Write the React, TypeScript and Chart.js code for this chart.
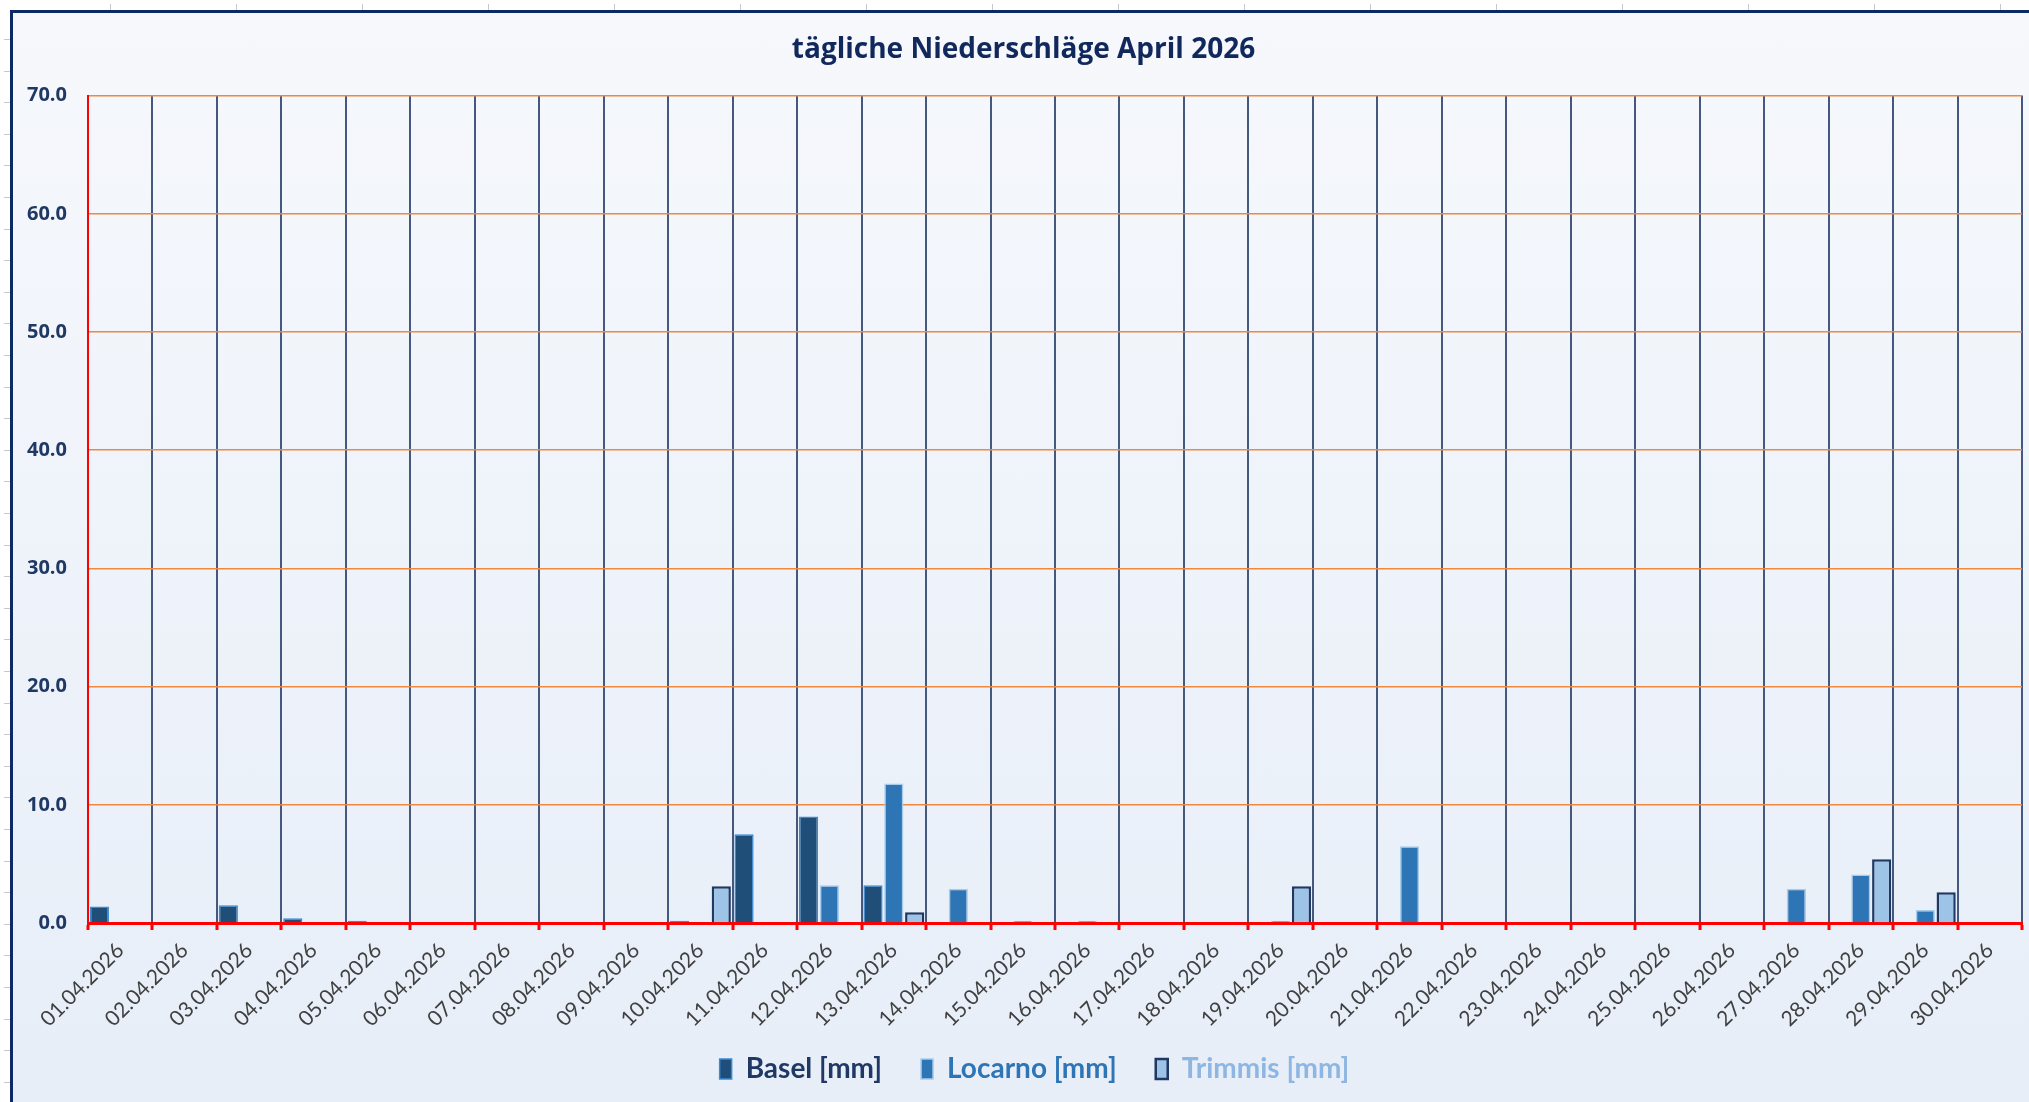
import React, { useEffect, useRef } from "react";
import { Chart, registerables } from "chart.js";

Chart.register(...registerables);

const TITLE = "tägliche Niederschläge April 2026";

const categories = [
  "01.04.2026", "02.04.2026", "03.04.2026", "04.04.2026", "05.04.2026",
  "06.04.2026", "07.04.2026", "08.04.2026", "09.04.2026", "10.04.2026",
  "11.04.2026", "12.04.2026", "13.04.2026", "14.04.2026", "15.04.2026",
  "16.04.2026", "17.04.2026", "18.04.2026", "19.04.2026", "20.04.2026",
  "21.04.2026", "22.04.2026", "23.04.2026", "24.04.2026", "25.04.2026",
  "26.04.2026", "27.04.2026", "28.04.2026", "29.04.2026", "30.04.2026",
];

const seriesNames = ["Basel [mm]", "Locarno [mm]", "Trimmis [mm]"];

const basel = [
  1.4, null, 1.5, 0.4, 0.2, null, null, null, null, 0.2,
  7.5, 9.0, 3.2, null, null, null, null, null, null, null,
  null, null, null, null, null, null, null, null, null, null,
];

const locarno = [
  null, null, null, null, null, null, null, null, null, null,
  null, 3.2, 11.8, 2.9, 0.2, 0.2, null, null, 0.2, null,
  6.5, null, null, null, null, null, 2.9, 4.1, 1.1, null,
];

const trimmis = [
  null, null, null, null, null, null, null, null, null, 3.1,
  null, null, 0.9, null, null, null, null, null, 3.1, null,
  null, null, null, null, null, null, null, 5.4, 2.6, null,
];

const yMin = 0;
const yMax = 70;
const yStep = 10;

const fillColors = ["#1F4E79", "#2E75B6", "#9DC3E6"];
const borderColors = ["#3A8AD6", "#A9CBEA", "#1F3864"];
const borderWidths = [1.5, 1.5, 2.5];
const legendTextColors = ["#1F3864", "#2E75B6", "#8DB6E2"];

const NAVY_GRID = "#45597F";
const ORANGE_GRID = "#F0883E";
const RED = "#FF0000";

// shifts (px) applied after layout to fine-place the title and legend blocks
const TITLE_SHIFT_X = 6;
const LEGEND_SHIFT_X = 17;
const LEGEND_SHIFT_Y = -17;

const placementPlugin = {
  id: "placement",
  afterLayout(chart: any) {
    const t = chart.titleBlock;
    if (t) {
      t.left += TITLE_SHIFT_X;
      t.right += TITLE_SHIFT_X;
    }
    const l = chart.legend;
    if (l) {
      l.left += LEGEND_SHIFT_X;
      l.right += LEGEND_SHIFT_X;
      l.top += LEGEND_SHIFT_Y;
    }
  },
};

export default function App() {
  const canvasRef = useRef<HTMLCanvasElement | null>(null);

  useEffect(() => {
    document.body.style.margin = "0";
    const canvas = canvasRef.current;
    if (!canvas) return;
    const series = [basel, locarno, trimmis];
    const chart = new Chart(canvas, {
      type: "bar",
      plugins: [placementPlugin],
      data: {
        labels: categories,
        datasets: series.map((d, i) => ({
          label: seriesNames[i],
          data: d,
          backgroundColor: fillColors[i],
          borderColor: borderColors[i],
          borderWidth: borderWidths[i],
          borderSkipped: "start",
          categoryPercentage: 0.97,
          barPercentage: 0.92,
        })),
      },
      options: {
        responsive: false,
        animation: false,
        devicePixelRatio: 1,
        layout: { padding: { left: 0, right: 7, top: 0, bottom: 9 } },
        plugins: {
          title: {
            display: true,
            text: TITLE,
            color: "#10285C",
            font: { family: "'Open Sans'", size: 28, weight: "bold" },
            padding: { top: 20, bottom: 29 },
          },
          legend: {
            position: "bottom",
            maxHeight: 60,
            labels: {
              font: { family: "Lato", size: 28, weight: "bold" },
              boxWidth: 12,
              boxHeight: 20,
              padding: 39,
              generateLabels: (ch: any) => {
                const items = (Chart.defaults.plugins.legend.labels as any).generateLabels(ch);
                items.forEach((it: any, i: number) => {
                  it.fontColor = legendTextColors[i];
                });
                return items;
              },
            },
          },
          tooltip: { enabled: false },
        },
        scales: {
          x: {
            z: 1,
            offset: true,
            grid: {
              offset: true,
              color: (ctx: any) => (ctx.index === 0 ? "rgba(0,0,0,0)" : NAVY_GRID),
              lineWidth: 2,
              tickColor: RED,
              tickLength: 7,
              tickWidth: 3,
            },
            border: { color: RED, width: 3 },
            ticks: {
              autoSkip: false,
              minRotation: 45,
              maxRotation: 45,
              color: "#404040",
              font: { family: "Lato", size: 21 },
              padding: 8,
            },
            afterFit: (s: any) => {
              s.height = 110;
            },
          },
          y: {
            min: yMin,
            max: yMax,
            ticks: {
              stepSize: yStep,
              callback: (v: any) => Number(v).toFixed(1),
              color: "#1F3864",
              font: { family: "'Open Sans'", size: 20, weight: "bold" },
              padding: 21,
            },
            grid: {
              drawTicks: false,
              color: (ctx: any) =>
                ctx.tick && ctx.tick.value === 0 ? "rgba(0,0,0,0)" : ORANGE_GRID,
              lineWidth: 1.5,
            },
            border: { color: RED, width: 2 },
            afterFit: (s: any) => {
              s.width = 75;
            },
          },
        },
      } as any,
    });
    return () => chart.destroy();
  }, []);

  const topTicks = [];
  for (let x = 110; x < 2029; x += 126) topTicks.push(x);
  const leftTicks = [];
  for (let y = 39; y < 1102; y += 31.6) leftTicks.push(Math.round(y));

  return (
    <div
      style={{
        position: "relative",
        width: 2029,
        height: 1102,
        overflow: "hidden",
        background: "#FFFFFF",
      }}
    >
      {topTicks.map((x) => (
        <div
          key={"t" + x}
          style={{ position: "absolute", left: x, top: 4, width: 1, height: 6, background: "#C8C8C8" }}
        />
      ))}
      {leftTicks.map((y) => (
        <div
          key={"l" + y}
          style={{ position: "absolute", left: 4, top: y, width: 6, height: 1, background: "#C8C8C8" }}
        />
      ))}
      <div
        style={{
          position: "absolute",
          left: 10,
          top: 10,
          width: 2019,
          height: 1092,
          boxSizing: "border-box",
          borderTop: "3px solid #0B2A66",
          borderLeft: "3px solid #0B2A66",
          background: "linear-gradient(180deg, #F6F8FC 0%, #E7EEF8 100%)",
        }}
      >
        <canvas
          ref={canvasRef}
          width={2016}
          height={1089}
          style={{ display: "block", width: 2016, height: 1089 }}
        />
      </div>
    </div>
  );
}
